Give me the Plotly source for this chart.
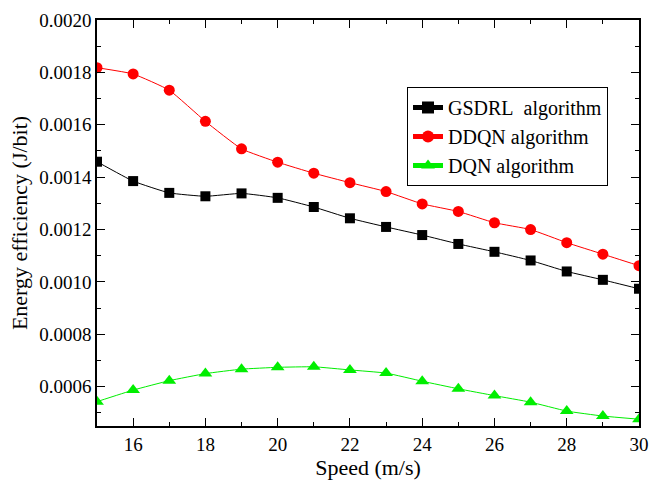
import plotly.graph_objects as go

speed = [15, 16, 17, 18, 19, 20, 21, 22, 23, 24, 25, 26, 27, 28, 29, 30]
gsdrl = [0.001459, 0.001385, 0.001340, 0.001327, 0.001338, 0.001321, 0.001286, 0.001243,
         0.001210, 0.001179, 0.001145, 0.001115, 0.001082, 0.001040, 0.001008, 0.000974]
ddqn = [0.001818, 0.001794, 0.001732, 0.001613, 0.001508, 0.001457, 0.001415, 0.001379,
        0.001345, 0.001298, 0.001269, 0.001226, 0.001200, 0.001150, 0.001106, 0.001062]
dqn = [0.000543, 0.000587, 0.000623, 0.000650, 0.000667, 0.000674, 0.000676, 0.000664,
       0.000652, 0.000621, 0.000592, 0.000566, 0.000541, 0.000507, 0.000488, 0.000476]

names = ["GSDRL\u00a0 algorithm", "DDQN algorithm", "DQN algorithm"]

FONT = "'Times New Roman', 'Liberation Serif', 'DejaVu Serif', serif"

fig = go.Figure()
fig.add_trace(go.Scatter(x=speed, y=gsdrl, name=names[0], mode="lines+markers",
                         line=dict(color="black", width=1, shape="spline", smoothing=0.4),
                         marker=dict(symbol="square", size=10, color="black")))
fig.add_trace(go.Scatter(x=speed, y=ddqn, name=names[1], mode="lines+markers",
                         line=dict(color="red", width=1, shape="spline", smoothing=0.4),
                         marker=dict(symbol="circle", size=11, color="red")))
fig.add_trace(go.Scatter(x=speed, y=dqn, name=names[2], mode="lines+markers",
                         line=dict(color="#00ee00", width=1, shape="spline", smoothing=0.4),
                         marker=dict(symbol="triangle-up", size=12, color="#00ee00")))

axis_common = dict(showline=True, linecolor="black", linewidth=1.5, mirror="allticks",
                   ticks="inside", ticklen=8, tickwidth=1.2, tickcolor="black",
                   showgrid=False, zeroline=False,
                   tickfont=dict(family=FONT, size=19, color="black"))

fig.update_xaxes(range=[15, 30], tick0=0, dtick=2,
                 minor=dict(ticks="inside", ticklen=4, dtick=1, tickcolor="black", tickwidth=1),
                 title=dict(text="Speed (m/s)", font=dict(family=FONT, size=22, color="black"),
                            standoff=2),
                 **axis_common)
fig.update_yaxes(range=[0.00045, 0.0020], tick0=0, dtick=0.0002, tickformat=".4f",
                 minor=dict(ticks="inside", ticklen=4, dtick=0.0001, tickcolor="black", tickwidth=1),
                 title=dict(text="Energy efficiency (J/bit)", font=dict(family=FONT, size=22, color="black"),
                            standoff=6),
                 **axis_common)

fig.update_layout(
    width=659, height=482,
    margin=dict(l=97, r=10, t=20, b=52),
    plot_bgcolor="white", paper_bgcolor="white",
    font=dict(family=FONT, size=19, color="black"),
    legend=dict(x=0.572, y=0.835, xanchor="left", yanchor="top",
                bordercolor="black", borderwidth=1, bgcolor="white",
                font=dict(family=FONT, size=20, color="black"),
                tracegroupgap=0, itemsizing="constant"),
)

fig.write_html("out.html")
